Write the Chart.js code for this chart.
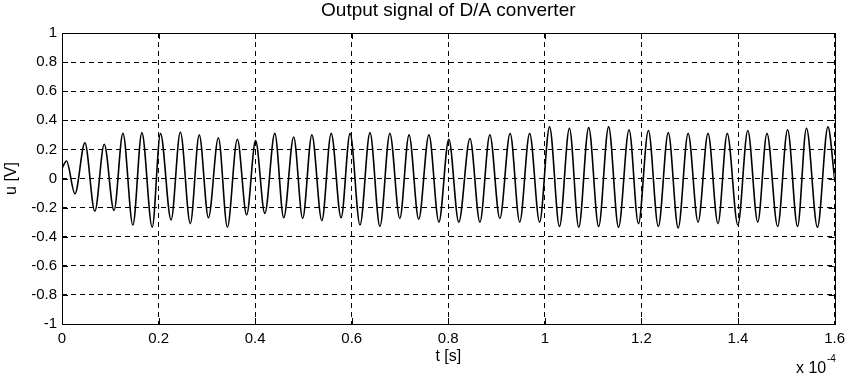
<!DOCTYPE html>
<html>
<head>
<meta charset="utf-8">
<title>Output signal of D/A converter</title>
<script src="https://cdn.jsdelivr.net/npm/chart.js@4.4.0/dist/chart.umd.min.js"></script>
<style>
  html, body { margin: 0; padding: 0; background: #fff; }
  #wrap { width: 851px; height: 376px; position: relative; }
</style>
</head>
<body>
<div id="wrap"><canvas id="daChart"></canvas></div>
<script>
// time in units of 1e-4 s (the axis carries the "x 10^-4" factor)
const timeE4 = [
  0, 0.0093, 0.0268, 0.0474, 0.0680, 0.0875, 0.1077, 0.1262, 0.1468, 0.1654,
  0.1868, 0.2039, 0.2259, 0.2451, 0.2657, 0.2842, 0.3033, 0.3239, 0.3425, 0.3631,
  0.3824, 0.4009, 0.4201, 0.4407, 0.4592, 0.4798, 0.4984, 0.5175, 0.5381, 0.5575,
  0.5780, 0.5966, 0.6172, 0.6378, 0.6584, 0.6790, 0.6996, 0.7187, 0.7387, 0.7599,
  0.7805, 0.8011, 0.8217, 0.8449, 0.8655, 0.8861, 0.9067, 0.9281, 0.9479, 0.9685,
  0.9891, 1.0097, 1.0303, 1.0509, 1.0702, 1.0908, 1.1114, 1.1320, 1.1526, 1.1744,
  1.1938, 1.2144, 1.2350, 1.2556, 1.2761, 1.2967, 1.3173, 1.3379, 1.3585, 1.3777,
  1.3997, 1.4203, 1.4409, 1.4600, 1.4821, 1.5027, 1.5233, 1.5418, 1.5645, 1.5863,
  1.6
];
// output voltage u [V] read at the peaks/troughs
const voltage = [
  0.07, 0.12, -0.105, 0.245, -0.225, 0.235, -0.22, 0.31, -0.32, 0.315,
  -0.335, 0.31, -0.285, 0.32, -0.31, 0.30, -0.27, 0.28, -0.335, 0.27,
  -0.25, 0.26, -0.24, 0.31, -0.27, 0.285, -0.275, 0.30, -0.29, 0.31,
  -0.27, 0.31, -0.32, 0.315, -0.33, 0.31, -0.275, 0.30, -0.28, 0.30,
  -0.30, 0.27, -0.30, 0.275, -0.30, 0.30, -0.275, 0.31, -0.30, 0.31,
  -0.30, 0.355, -0.33, 0.345, -0.335, 0.35, -0.33, 0.355, -0.335, 0.335,
  -0.31, 0.33, -0.33, 0.315, -0.34, 0.31, -0.30, 0.31, -0.31, 0.31,
  -0.32, 0.33, -0.30, 0.31, -0.33, 0.335, -0.33, 0.345, -0.335, 0.355,
  0.0
];
const xTicks = [0, 0.2, 0.4, 0.6, 0.8, 1, 1.2, 1.4, 1.6];
const yTicks = [-1, -0.8, -0.6, -0.4, -0.2, 0, 0.2, 0.4, 0.6, 0.8, 1];

const points = timeE4.map((t, i) => ({ x: t, y: voltage[i] }));
const FONT = "'Liberation Sans', Arial, sans-serif";

// frame, inner tick marks and the text around the axes (MATLAB look)
const matlabFrame = {
  id: "matlabFrame",
  afterDraw(chart) {
    const ctx = chart.ctx;
    const a = chart.chartArea;
    const xs = chart.scales.x, ys = chart.scales.y;
    ctx.save();
    ctx.strokeStyle = "#000";
    ctx.lineWidth = 1;
    ctx.setLineDash([]);
    ctx.beginPath();
    xTicks.forEach(v => {
      const px = Math.round(xs.getPixelForValue(v)) + 0.5;
      ctx.moveTo(px, a.bottom); ctx.lineTo(px, a.bottom - 6);
      ctx.moveTo(px, a.top); ctx.lineTo(px, a.top + 6);
    });
    yTicks.forEach(v => {
      const py = Math.round(ys.getPixelForValue(v)) + 0.5;
      ctx.moveTo(a.left, py); ctx.lineTo(a.left + 6, py);
      ctx.moveTo(a.right, py); ctx.lineTo(a.right - 6, py);
    });
    ctx.stroke();
    ctx.strokeRect(Math.round(a.left) + 0.5, Math.round(a.top) + 0.5,
      Math.round(a.right - a.left), Math.round(a.bottom - a.top));

    ctx.fillStyle = "#000";
    ctx.textAlign = "center";
    ctx.textBaseline = "middle";
    const cx = (a.left + a.right) / 2;
    ctx.font = "19px " + FONT;
    ctx.fillText("Output signal of D/A converter", cx, 11);
    ctx.font = "16px " + FONT;
    ctx.fillText("t [s]", cx, 357);
    ctx.save();
    ctx.translate(12, (a.top + a.bottom) / 2);
    ctx.rotate(-Math.PI / 2);
    ctx.fillText("u [V]", 0, 0);
    ctx.restore();
    ctx.textAlign = "left";
    ctx.fillText("x 10", 796, 369);
    ctx.font = "10px " + FONT;
    ctx.fillText("-4", 827, 359);
    ctx.restore();
  }
};

new Chart(document.getElementById("daChart"), {
  type: "line",
  data: {
    datasets: [{
      label: "u",
      data: points,
      borderColor: "#000",
      borderWidth: 1.6,
      pointRadius: 0,
      fill: false,
      cubicInterpolationMode: "monotone"
    }]
  },
  options: {
    responsive: true,
    maintainAspectRatio: false,
    animation: false,
    layout: { padding: { top: 33, right: 12, left: 0, bottom: 0 } },
    plugins: {
      legend: { display: false },
      tooltip: { enabled: false }
    },
    scales: {
      x: {
        type: "linear",
        min: 0,
        max: 1.6,
        afterBuildTicks: s => { s.ticks = xTicks.map(v => ({ value: v })); },
        afterFit: s => { s.height = 52; },
        grid: { color: "#000", lineWidth: 1, drawTicks: false },
        border: { display: false, dash: [5, 4] },
        ticks: {
          color: "#000",
          padding: 6,
          maxRotation: 0,
          font: { family: FONT, size: 15 },
          callback: v => String(Number(v.toFixed(1)))
        }
      },
      y: {
        min: -1,
        max: 1,
        afterBuildTicks: s => { s.ticks = yTicks.map(v => ({ value: v })); },
        afterFit: s => { s.width = 62; },
        grid: { color: "#000", lineWidth: 1, drawTicks: false },
        border: { display: false, dash: [5, 4] },
        ticks: {
          color: "#000",
          padding: 5,
          font: { family: FONT, size: 15 },
          callback: v => String(Number(v.toFixed(1)))
        }
      }
    }
  },
  plugins: [matlabFrame]
});
</script>
</body>
</html>
